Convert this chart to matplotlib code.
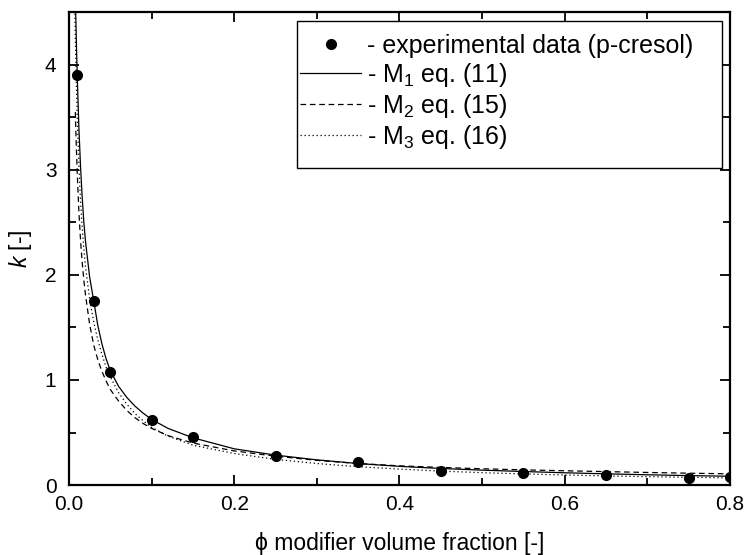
import numpy as np
import matplotlib
matplotlib.use("Agg")
import matplotlib.pyplot as plt
from matplotlib.ticker import MultipleLocator, FormatStrFormatter
from matplotlib.patches import Rectangle

plt.rcParams['font.family'] = ['Liberation Sans', 'DejaVu Sans']
plt.rcParams['mathtext.fontset'] = 'custom'
plt.rcParams['mathtext.rm'] = 'Liberation Sans'
plt.rcParams['mathtext.it'] = 'Liberation Sans:italic'

# experimental points (p-cresol)
phi_exp = [0.01, 0.03, 0.05, 0.10, 0.15, 0.25, 0.35, 0.45, 0.55, 0.65, 0.75, 0.80]
k_exp = [3.90, 1.75, 1.08, 0.62, 0.46, 0.28, 0.215, 0.13, 0.115, 0.093, 0.065, 0.078]

# model M1, eq. (11)
phi_m1 = [0.007, 0.008, 0.009, 0.01, 0.012, 0.014, 0.016, 0.018, 0.02, 0.025, 0.03,
          0.035, 0.04, 0.045, 0.05, 0.06, 0.07, 0.08, 0.09, 0.1, 0.12, 0.15, 0.2,
          0.25, 0.3, 0.35, 0.4, 0.45, 0.5, 0.55, 0.6, 0.65, 0.7, 0.75, 0.8]
k_m1 = [5.1, 4.56, 4.2, 3.9, 3.4, 3.03, 2.74, 2.5, 2.32, 1.98, 1.75,
        1.515, 1.34, 1.2, 1.09, 0.94, 0.834, 0.75, 0.683, 0.625, 0.539, 0.45, 0.345,
        0.285, 0.24, 0.205, 0.178, 0.158, 0.142, 0.129, 0.117, 0.107, 0.098, 0.09, 0.084]

# model M2, eq. (15)
phi_m2 = [0.0077, 0.008, 0.009, 0.01, 0.012, 0.014, 0.016, 0.018, 0.02, 0.025, 0.03,
          0.035, 0.04, 0.045, 0.05, 0.06, 0.07, 0.08, 0.09, 0.1, 0.12, 0.15, 0.2,
          0.25, 0.3, 0.35, 0.4, 0.45, 0.5, 0.55, 0.6, 0.65, 0.7, 0.75, 0.8]
k_m2 = [3.55, 3.45, 3.2, 2.97, 2.6, 2.33, 2.12, 1.95, 1.81, 1.53, 1.33,
        1.19, 1.08, 0.99, 0.91, 0.80, 0.71, 0.64, 0.585, 0.54, 0.47, 0.40, 0.325,
        0.275, 0.235, 0.205, 0.183, 0.168, 0.155, 0.145, 0.136, 0.128, 0.12, 0.113, 0.107]

# model M3, eq. (16)
phi_m3 = [0.0068, 0.008, 0.009, 0.01, 0.012, 0.014, 0.016, 0.018, 0.02, 0.025, 0.03,
          0.035, 0.04, 0.045, 0.05, 0.06, 0.07, 0.08, 0.09, 0.1, 0.12, 0.15, 0.2,
          0.25, 0.3, 0.35, 0.4, 0.45, 0.5, 0.55, 0.6, 0.65, 0.7, 0.75, 0.8]
k_m3 = [4.6, 4.15, 3.8, 3.5, 3.05, 2.7, 2.45, 2.25, 2.08, 1.77, 1.55,
        1.38, 1.24, 1.12, 1.03, 0.88, 0.77, 0.68, 0.61, 0.55, 0.465, 0.38, 0.30,
        0.245, 0.205, 0.175, 0.152, 0.133, 0.118, 0.106, 0.096, 0.087, 0.08, 0.074, 0.068]

fig = plt.figure(figsize=(7.44, 5.55), dpi=100)
ax = fig.add_axes([0.0927, 0.126, 0.8885, 0.852])

ax.plot(phi_exp, k_exp, 'o', color='black', ms=7, label='- experimental data (p-cresol)', zorder=5)
ax.plot(phi_m1, k_m1, '-', color='black', lw=0.9, label='- M$_1$ eq. (11)')
ax.plot(phi_m2, k_m2, color='black', lw=0.9, dashes=(4.5, 3), label='- M$_2$ eq. (15)')
ax.plot(phi_m3, k_m3, color='black', lw=0.9, dashes=(1, 2.2), label='- M$_3$ eq. (16)')

ax.set_xlim(0, 0.8)
ax.set_ylim(0, 4.5)
ax.xaxis.set_major_locator(MultipleLocator(0.2))
ax.xaxis.set_minor_locator(MultipleLocator(0.1))
ax.yaxis.set_major_locator(MultipleLocator(1))
ax.yaxis.set_minor_locator(MultipleLocator(0.5))
ax.xaxis.set_major_formatter(FormatStrFormatter('%.1f'))
ax.tick_params(which='both', direction='in', top=True, right=True, width=1.3, labelsize=15)
ax.tick_params(which='major', length=7)
ax.tick_params(which='minor', length=5)
ax.tick_params(axis='x', which='major', pad=7)
ax.tick_params(axis='y', which='major', pad=9)
for s in ax.spines.values():
    s.set_linewidth(1.6)

ax.set_xlabel('ϕ modifier volume fraction [-]', fontsize=16.5, labelpad=13)
ax.set_ylabel('$k$ [-]', fontsize=16.5, labelpad=8)

# legend box drawn separately so its padding can be set freely
box = Rectangle((297 / 744, 1 - 168 / 555), 425 / 744, 147 / 555, transform=fig.transFigure,
                facecolor='white', edgecolor='black', lw=1.0, zorder=8)
fig.patches.append(box)
leg = ax.legend(loc='upper left', bbox_to_anchor=(300 / 744, 1 - 34 / 555),
                bbox_transform=fig.transFigure, fontsize=18, frameon=False,
                handlelength=2.44, handletextpad=0.24, borderpad=0, borderaxespad=0,
                labelspacing=0.12)
leg.set_zorder(9)
leg.remove()
fig.add_artist(leg)

plt.savefig('out.png', dpi=100)
